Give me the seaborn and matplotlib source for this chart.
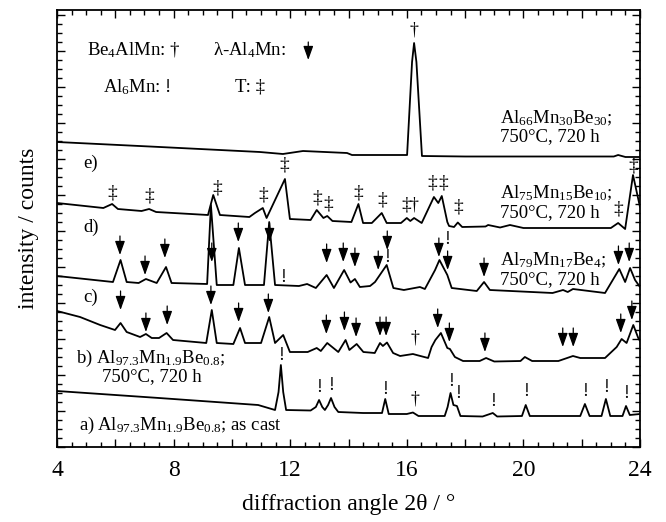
import numpy as np
import pandas as pd
import matplotlib
matplotlib.use("Agg")
import matplotlib.pyplot as plt
from matplotlib.ticker import MultipleLocator, FuncFormatter
import seaborn as sns

# diffraction angle (deg) / intensity (arb. counts, offset traces)
a_x = [4.0, 7.5, 10.9, 11.48, 11.60, 11.68, 11.76, 11.86, 12.7, 12.88, 12.99, 13.10, 13.19, 13.30,
       13.40, 13.52, 13.65, 14.5, 15.15, 15.26, 15.38, 16.0, 16.21, 16.4, 17.3, 17.40, 17.50, 17.60,
       17.72, 17.84, 18.6, 18.95, 19.1, 19.95, 20.08, 20.22, 21.95, 22.11, 22.27, 22.68, 22.83,
       22.98, 23.40, 23.52, 23.65, 24.0]
a_y = [56, 49, 42, 37, 55, 82, 55, 37, 36.5, 40, 47, 40, 37, 42,
       49, 40, 35, 34, 34, 48, 33, 33, 34.5, 31, 31, 40, 54, 42,
       41, 31, 30.5, 34, 30.5, 31, 42, 31, 31, 43, 31, 31, 48,
       31, 31, 41, 32, 33]

b_x = [4.0, 4.79, 5.48, 5.99, 6.18, 6.39, 6.85, 7.05, 7.25, 7.5, 7.76, 7.98, 9.12, 9.31, 9.48,
       10.05, 10.28, 10.45, 11.0, 11.28, 11.48, 11.76, 11.99, 12.6, 12.91, 13.05, 13.27, 13.65,
       13.90, 14.03, 14.28, 14.51, 14.9, 15.08, 15.18, 15.32, 15.53, 15.77, 16.21, 16.4, 16.73,
       16.85, 16.98, 17.17, 17.39, 17.48, 17.65, 17.93, 18.5, 18.72, 19.0, 19.9, 20.05, 20.3,
       21.2, 21.70, 21.95, 22.8, 23.2, 23.37, 23.54, 23.77, 23.94, 24.0]
b_y = [136, 130, 122, 117, 124, 115, 110, 113, 109, 109, 114, 107, 104, 137, 104,
       103, 119, 104, 104, 130, 104, 112, 95, 95, 99, 96, 104, 95,
       107, 97, 103, 95, 94, 104, 101, 104.5, 94, 91, 93, 91.5, 89,
       100, 107, 114, 99, 98, 90, 86, 86, 89, 85.5, 86, 90, 86,
       86, 91, 89, 89, 100, 108, 104, 122, 109, 106]

c_x = [4.0, 5.92, 6.18, 6.39, 6.8, 7.05, 7.42, 7.74, 7.93, 9.15, 9.28, 9.48, 10.05, 10.24, 10.45,
       11.1, 11.28, 11.48, 12.3, 12.58, 12.88, 13.25, 13.50, 13.85, 14.07, 14.22, 14.39, 14.74,
       14.91, 15.31, 15.54, 15.9, 16.45, 16.62, 16.97, 17.12, 17.39, 17.54, 18.4, 18.65, 18.85,
       21.0, 21.36, 21.52, 21.70, 22.8, 23.29, 23.49, 23.66, 23.83, 24.0]
c_y = [171, 165, 187, 165, 164, 168, 164, 180, 164, 163, 242, 162, 162, 199, 162,
       162, 225, 162, 161, 163, 159, 172, 159, 177, 164.5, 168, 160, 161,
       165, 182, 159, 157, 160, 158, 177, 187, 172, 159, 156, 165, 157,
       154, 157, 155, 158, 154, 178, 165, 179, 167, 160]

d_x = [4.0, 5.59, 5.89, 6.09, 6.9, 7.16, 7.4, 9.18, 9.36, 9.59, 10.6, 10.79, 11.06, 11.19,
       11.82, 11.99, 12.7, 12.91, 13.14, 13.27, 13.45, 14.1, 14.34, 14.50, 14.8, 15.14, 15.31,
       15.8, 16.0, 16.12, 16.25, 16.51, 16.93, 17.08, 17.20, 17.39, 17.45, 17.62, 17.75, 17.9,
       18.7, 18.79, 19.2, 19.54, 20.0, 23.0, 23.25, 23.49, 23.76, 24.0]
d_y = [244, 239, 243, 238, 236, 238, 235, 232, 252, 232, 230, 234, 239, 229,
       268, 228, 227, 237, 229, 231, 226, 225, 243, 224, 224, 234, 224,
       224, 229, 226, 229, 224, 250, 244, 251, 225, 221, 220, 224.5, 220,
       220.5, 222, 219.5, 222, 219, 219, 224, 218, 272, 240]

e_x = [4.0, 7.53, 10.96, 11.75, 12.44, 13.95, 14.12, 14.74, 16.01, 16.18, 16.25, 16.33, 16.52,
       18.0, 23.1, 23.25, 23.5, 24.0]
e_y = [305, 300, 295, 293, 296, 294, 292, 292, 292, 385, 404, 385, 291,
       290.5, 290.5, 292, 290, 290]

# phase marks: lambda-Al4Mn arrows (x, tip height)
arrow_x = [6.16, 7.02, 7.70, 9.31, 10.22, 11.29, 13.25, 13.82, 14.22, 15.02, 15.33, 17.10, 17.40,
           18.65, 23.26, 23.63,
           6.18, 7.05, 7.78, 9.28, 10.23, 11.25, 13.24, 13.86, 14.26, 15.08, 15.29, 17.06, 17.46,
           18.68, 21.35, 21.71, 23.34, 23.72]
arrow_tip = [192, 172, 189, 185, 205, 205, 184, 185, 180, 177, 197, 190, 177,
             170, 182, 185,
             137, 115, 122, 142, 125, 134, 113, 116, 110, 111, 111, 119, 105,
             95, 100, 100, 114, 127]

# Al6Mn "!"
al6_x = [11.68, 12.99, 13.39, 15.26, 17.52, 17.75, 18.95, 20.08, 22.11, 22.83, 23.51, 11.75, 15.33, 17.40]
al6_y = [91, 59, 61, 58, 65, 54, 46, 55, 56, 59, 53, 170, 189, 207]

# Be4AlMn "†"
be_x = [16.25, 16.25, 16.27, 16.27]
be_y = [417, 242, 109, 48]

# T phase "‡"
t_x = [5.91, 7.16, 9.49, 11.06, 11.80, 12.92, 13.29, 14.34, 15.15, 15.98, 16.88, 17.25, 17.76, 23.25, 23.76]
t_y = [254, 251, 259, 252, 282, 249, 243, 254, 247, 242, 264, 264, 240, 238, 281]

traces = {"a": (a_x, a_y), "b": (b_x, b_y), "c": (c_x, c_y), "d": (d_x, d_y), "e": (e_x, e_y)}

sns.set_theme(style="ticks")
plt.rcParams["font.family"] = ["Liberation Serif", "DejaVu Serif"]
plt.rcParams["mathtext.fontset"] = "custom"
plt.rcParams["mathtext.rm"] = "Liberation Serif"
plt.rcParams["mathtext.it"] = "Liberation Serif:italic"
plt.rcParams["mathtext.bf"] = "Liberation Serif:bold"
for key in ["text.color", "axes.labelcolor", "xtick.color", "ytick.color", "axes.edgecolor"]:
    plt.rcParams[key] = "black"

fig = plt.figure(figsize=(6.66, 5.22), dpi=100)
ax = fig.add_axes([57 / 666, 1 - 447 / 522, 583 / 666, 437 / 522])

for name, (xs, ys) in traces.items():
    df = pd.DataFrame({"angle": xs, "counts": ys})
    sns.lineplot(data=df, x="angle", y="counts", ax=ax, color="black", lw=1.3,
                 sort=False, estimator=None)

arrow_len = 19
arrow_style = dict(arrowstyle="-|>,head_length=0.7,head_width=0.25",
                   color="black", lw=0.9, shrinkA=0, shrinkB=0)
for x, tip in zip(arrow_x, arrow_tip):
    ax.annotate("", xy=(x, tip), xytext=(x, tip + arrow_len), arrowprops=arrow_style)

mark_fs = 13
for x, y in zip(al6_x, al6_y):
    ax.text(x, y, "!", ha="center", va="center", fontsize=mark_fs, color="black")
for x, y in zip(be_x, be_y):
    ax.text(x, y, "\u2020", ha="center", va="center", fontsize=mark_fs, color="black")
for x, y in zip(t_x, t_y):
    ax.text(x, y, "\u2021", ha="center", va="center", fontsize=mark_fs + 1, color="black")

# key
fs = 13.5
ax.text(5.03, 397, "Be$_4$AlMn: \u2020", fontsize=fs, va="center")
ax.text(9.35, 397, "\u03bb-Al$_4$Mn:", fontsize=fs, va="center")
ax.annotate("", xy=(12.62, 387), xytext=(12.62, 405), arrowprops=arrow_style)
ax.text(5.58, 360, "Al$_6$Mn: !", fontsize=fs, va="center")
ax.text(10.11, 360, "T: \u2021", fontsize=fs, va="center")

# sample labels
ax.text(4.9, 284, "e)", fontsize=fs, va="center")
ax.text(4.9, 220, "d)", fontsize=fs, va="center")
ax.text(4.9, 150, "c)", fontsize=fs, va="center")
ax.text(4.65, 89, "b) Al$_{97.3}$Mn$_{1.9}$Be$_{0.8}$;", fontsize=fs, va="center")
ax.text(5.55, 70, "750\u00b0C, 720 h", fontsize=fs, va="center")
ax.text(4.75, 22, "a)\u2009Al$_{97.3}$Mn$_{1.9}$Be$_{0.8}$; as cast", fontsize=fs, va="center")
ax.text(19.2, 329, "Al$_{66}$Mn$_{30}$Be$_{30}$;", fontsize=fs, va="center")
ax.text(19.2, 310, "750\u00b0C, 720 h", fontsize=fs, va="center")
ax.text(19.2, 254, "Al$_{75}$Mn$_{15}$Be$_{10}$;", fontsize=fs, va="center")
ax.text(19.2, 234, "750\u00b0C, 720 h", fontsize=fs, va="center")
ax.text(19.2, 187, "Al$_{79}$Mn$_{17}$Be$_{4}$;", fontsize=fs, va="center")
ax.text(19.2, 167, "750\u00b0C, 720 h", fontsize=fs, va="center")

ax.set_xlim(4, 24)
ax.set_ylim(0, 437)
ax.xaxis.set_major_locator(MultipleLocator(2))
ax.xaxis.set_minor_locator(MultipleLocator(0.5))
ax.xaxis.set_major_formatter(FuncFormatter(lambda v, p: f"{v:.0f}" if round(v) % 4 == 0 else ""))
ax.yaxis.set_major_locator(MultipleLocator(36))
ax.yaxis.set_minor_locator(MultipleLocator(9))
ax.set_yticklabels([])
ax.tick_params(which="both", direction="in", top=True, right=True, width=1, colors="black")
ax.tick_params(which="major", length=6, labelsize=17, pad=9)
ax.tick_params(which="minor", length=3.5)
for s in ax.spines.values():
    s.set_linewidth(1.3)
    s.set_color("black")

ax.set_xlabel("diffraction angle 2\u03b8 / \u00b0", fontsize=17, labelpad=10)
ax.set_ylabel("intensity / counts", fontsize=17, labelpad=4)

fig.savefig("out.png", dpi=100)
